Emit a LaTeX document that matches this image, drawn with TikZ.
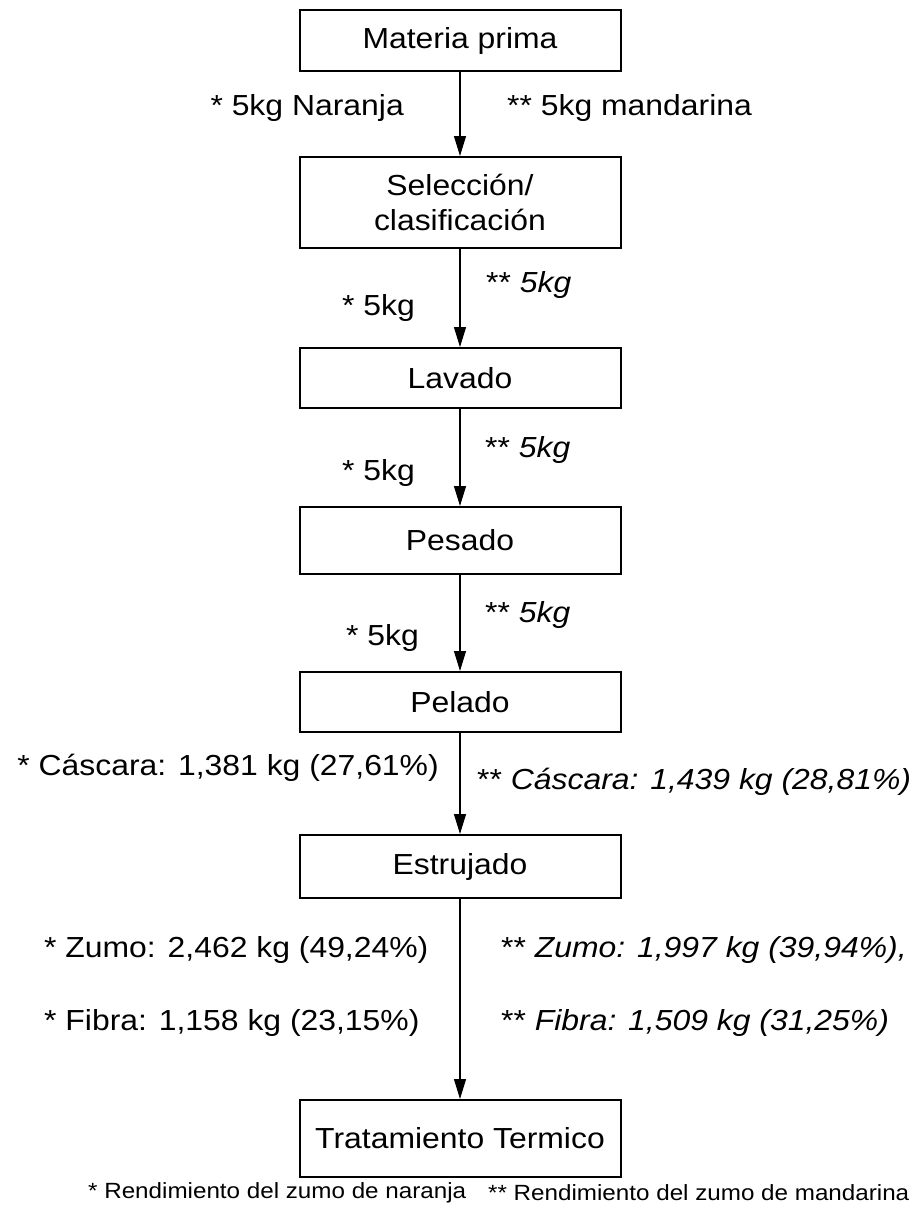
\documentclass[tikz,border=0pt]{standalone}
\usepackage{fontspec}
\setmainfont[FakeStretch=1.1]{Liberation Sans}
\usetikzlibrary{arrows.meta}
\begin{document}
\begin{tikzpicture}[x=1pt,y=-1pt,
  procbox/.style={draw, line width=2pt, minimum width=321pt, inner sep=0pt, font=\fontsize{29}{35}\selectfont, align=center},
  flowlbl/.style={inner sep=0pt, font=\fontsize{29}{35}\selectfont},
  flowarr/.style={line width=1.2pt, -{Triangle[length=20pt,width=12pt]}},
  foot/.style={inner sep=0pt, font=\fontsize{22}{26}\selectfont}]
\useasboundingbox (0,0) rectangle (914,1208);
\node[procbox, minimum height=61pt] (mp) at (460,40.5) {Materia prima};
\node[procbox, minimum height=91pt] (sel) at (460,202.5) {Selección/\\clasificación};
\node[procbox, minimum height=60pt] (lav) at (460,378) {Lavado};
\node[procbox, minimum height=67pt] (pes) at (460,540.5) {Pesado};
\node[procbox, minimum height=60pt] (pel) at (460,702) {Pelado};
\node[procbox, minimum height=63pt] (est) at (460,866.5) {Estrujado};
\node[procbox, minimum height=77pt] (tra) at (460,1138.5) {Tratamiento Termico};

\draw[flowarr] (mp.south) -- (sel.north);
\draw[flowarr] (sel.south) -- (lav.north);
\draw[flowarr] (lav.south) -- (pes.north);
\draw[flowarr] (pes.south) -- (pel.north);
\draw[flowarr] (pel.south) -- (est.north);
\draw[flowarr] (est.south) -- (tra.north);

\node[flowlbl, anchor=east] (l1a) at (404,108) {* 5kg Naranja};
\node[flowlbl, anchor=west] (l1b) at (507,108) {** 5kg mandarina};
\node[flowlbl, anchor=east] (l2a) at (415,308) {* 5kg};
\node[flowlbl, anchor=west] (l2b) at (486,285) {** \textit{5kg}};
\node[flowlbl, anchor=east] (l3a) at (415,473) {* 5kg};
\node[flowlbl, anchor=west] (l3b) at (485,450) {** \textit{5kg}};
\node[flowlbl, anchor=east] (l4a) at (419,638) {* 5kg};
\node[flowlbl, anchor=west] (l4b) at (485,615) {** \textit{5kg}};
\node[flowlbl, anchor=east] (l5a) at (439,768) {* Cáscara: 1,381 kg (27,61\%)};
\node[flowlbl, anchor=west] (l5b) at (477,782) {** \textit{Cáscara: 1,439 kg (28,81\%)}};
\node[flowlbl, anchor=west] (l6a) at (44,950) {* Zumo: 2,462 kg (49,24\%)};
\node[flowlbl, anchor=west] (l6b) at (501,950) {** \textit{Zumo: 1,997 kg (39,94\%),}};
\node[flowlbl, anchor=west] (l7a) at (44,1023) {* Fibra: 1,158 kg (23,15\%)};
\node[flowlbl, anchor=west] (l7b) at (501,1023) {** \textit{Fibra: 1,509 kg (31,25\%)}};

\node[foot, anchor=west] (f1) at (88,1193) {* Rendimiento del zumo de naranja};
\node[foot, anchor=west] (f2) at (488,1193) {** Rendimiento del zumo de mandarina};
\end{tikzpicture}
\end{document}
